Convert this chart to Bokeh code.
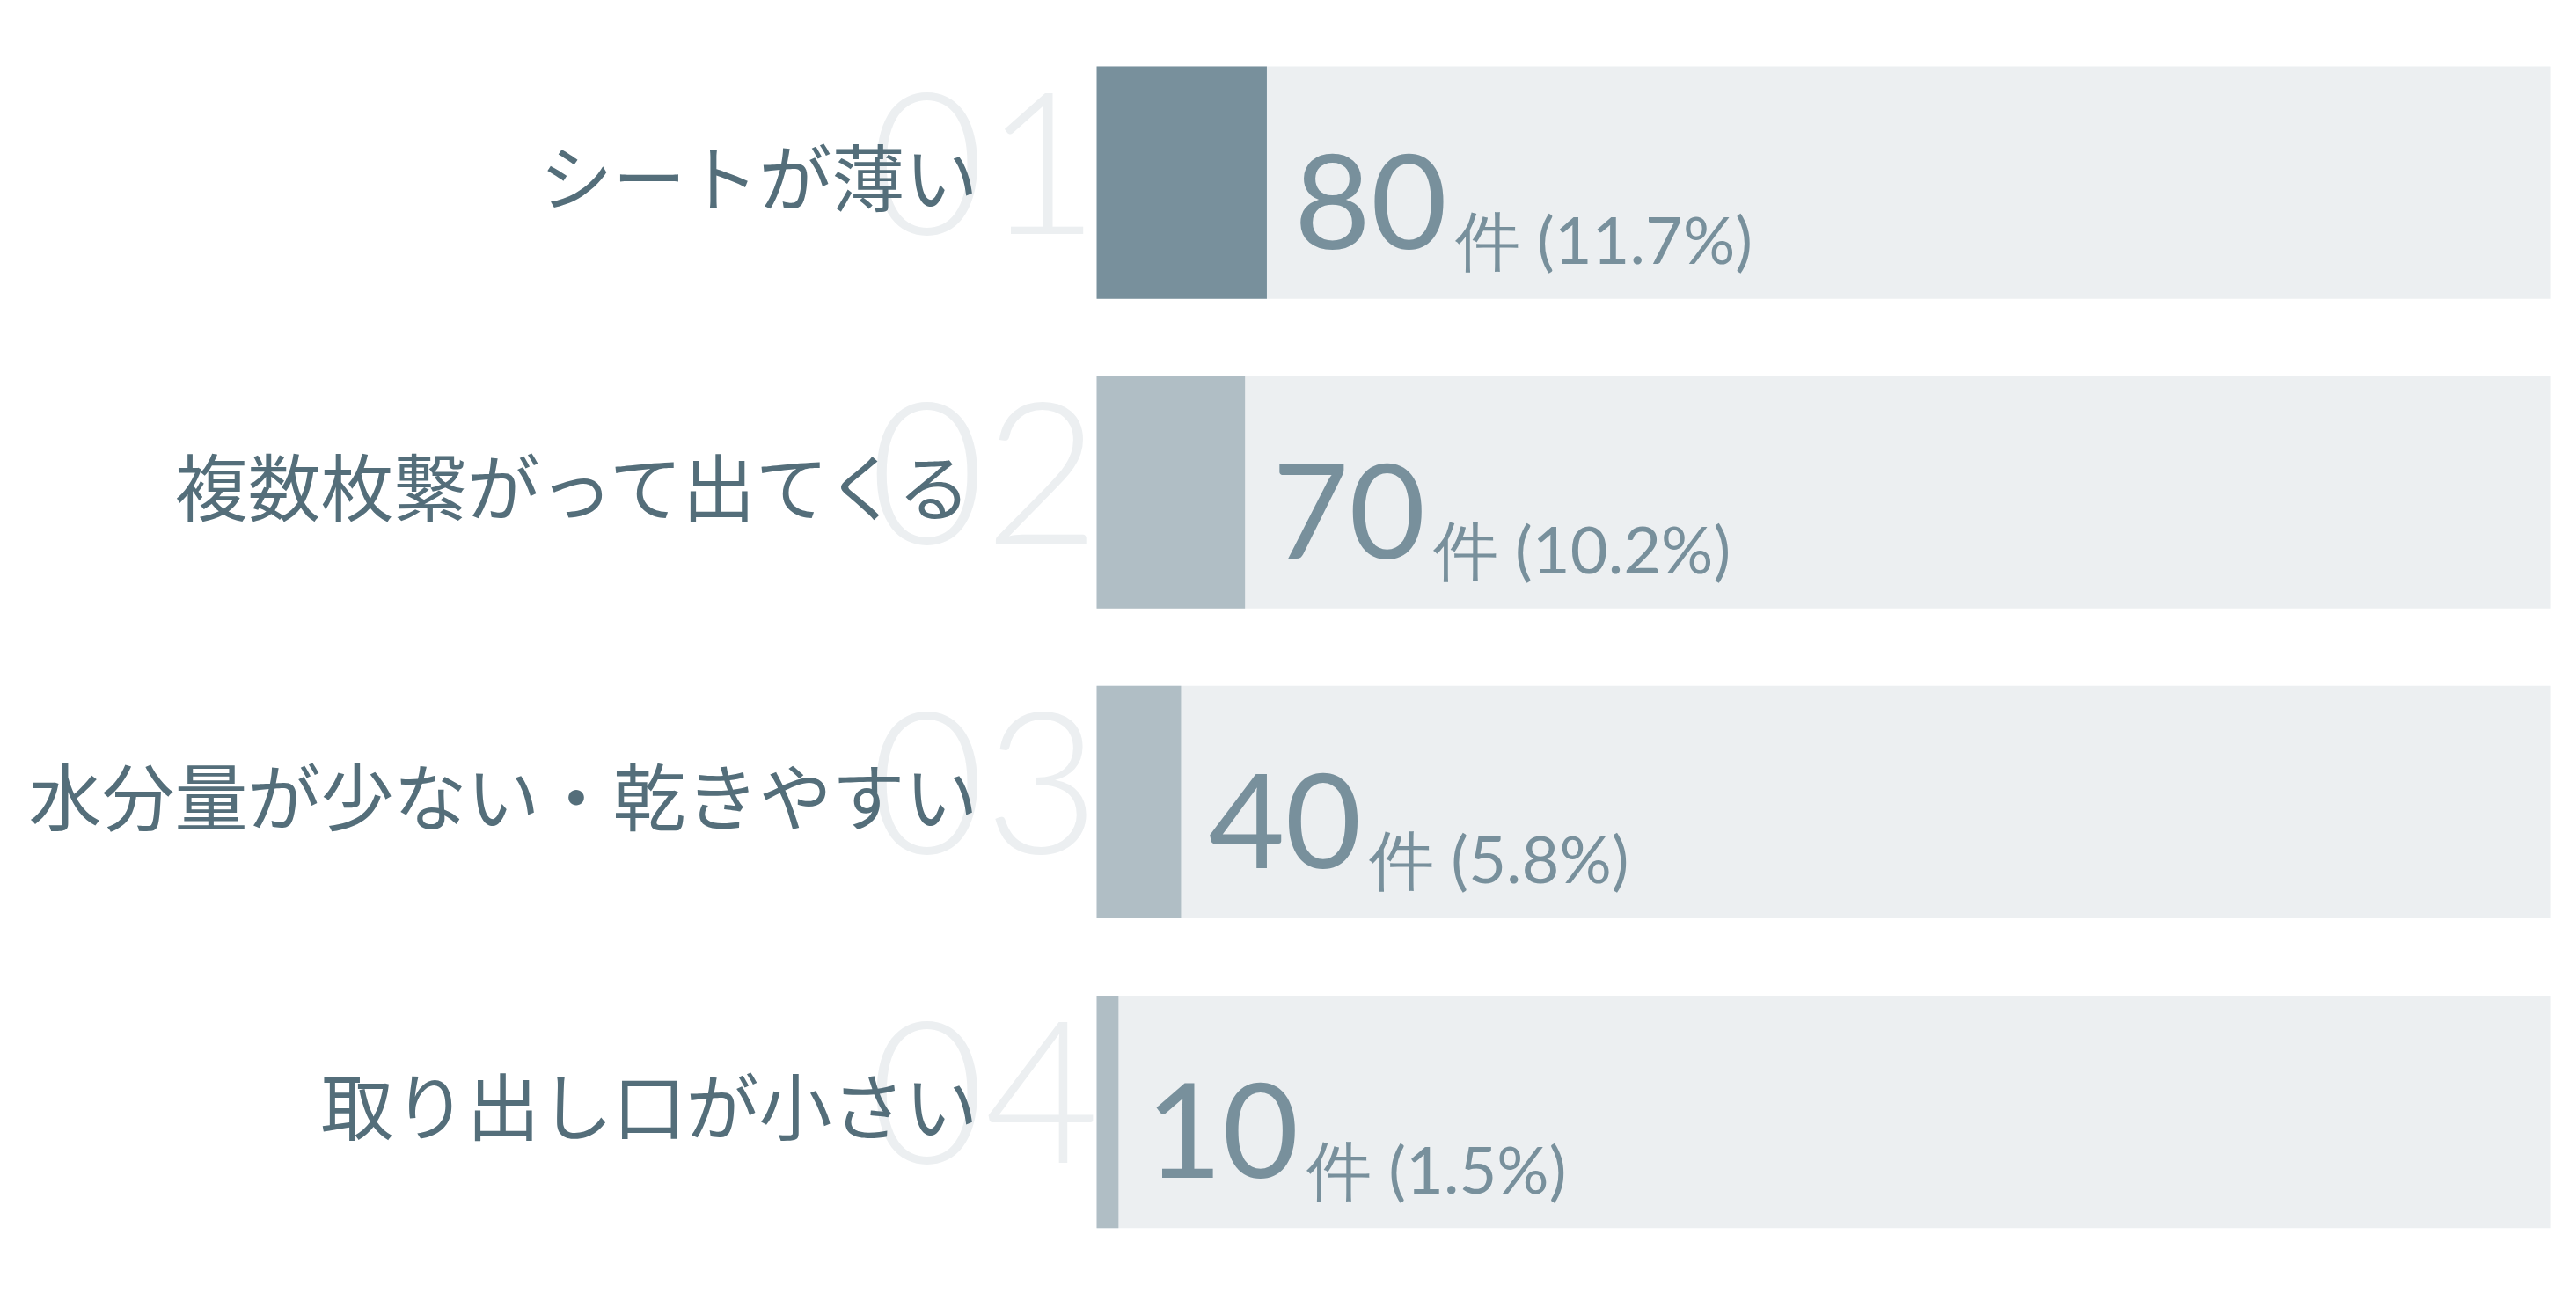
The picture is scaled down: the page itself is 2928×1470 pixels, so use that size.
from bokeh.plotting import figure
from bokeh.models import ColumnDataSource, Range1d
from bokeh.core.properties import value
from bokeh.embed import file_html
from bokeh.resources import INLINE

# data
labels = ["シートが薄い", "複数枚繋がって出てくる", "水分量が少ない・乾きやすい", "取り出し口が小さい"]
ranks = ["01", "02", "03", "04"]
counts = [80, 70, 40, 10]
shares = [11.7, 10.2, 5.8, 1.5]

rows = list(range(len(labels)))
# the top answer gets the darker fill
fill_colors = ["#78909c" if c == max(counts) else "#b0bec5" for c in counts]

# one row is ~352 px tall on screen; text nudges below are in px, turned into rows
ROW_PX = 352.2

source = ColumnDataSource(data=dict(
    row=rows,
    label=labels,
    rank=ranks,
    count=[str(c) for c in counts],
    detail=["件 (%.1f%%)" % s for s in shares],
    share=shares,
    full=[100] * len(rows),
    color=fill_colors,
    label_y=[r - 10 / ROW_PX for r in rows],
    rank_y=[r - 22 / ROW_PX for r in rows],
    count_y=[r + 21 / ROW_PX for r in rows],
    detail_y=[r + 64 / ROW_PX for r in rows],
))

p = figure(width=2928, height=1470,
           x_range=Range1d(-75.38, 101.75), y_range=Range1d(3.586, -0.588),
           min_border=0, toolbar_location=None, output_backend="svg")
p.axis.visible = False
p.grid.visible = False
p.outline_line_color = None
p.background_fill_color = "white"
p.border_fill_color = "white"

# track + filled share
p.hbar(y="row", left=0, right="full", height=0.75, fill_color="#eceff1", line_color=None, source=source)
p.hbar(y="row", left=0, right="share", height=0.75, fill_color="color", line_color=None, source=source)

# big faint rank numbers behind the labels
p.text(x=0, y="rank_y", text="rank", source=source, x_offset=3,
       text_align="right", text_baseline="middle",
       text_font=value("Lato Light"), text_font_size="225px", text_color="#eceff1")

# category labels
p.text(x=0, y="label_y", text="label", source=source, x_offset=-135,
       text_align="right", text_baseline="middle",
       text_font=value("Noto Sans CJK JP"), text_font_size="83px", text_color="#546e7a")

# counts and share
p.text(x="share", y="count_y", text="count", source=source, x_offset=31,
       text_align="left", text_baseline="middle",
       text_font=value("Lato"), text_font_size="150px", text_color="#78909c")
p.text(x="share", y="detail_y", text="detail", source=source, x_offset=214,
       text_align="left", text_baseline="middle",
       text_font=value("Lato"), text_font_size="74px", text_color="#78909c")

open("out.html", "w").write(file_html(p, INLINE))
